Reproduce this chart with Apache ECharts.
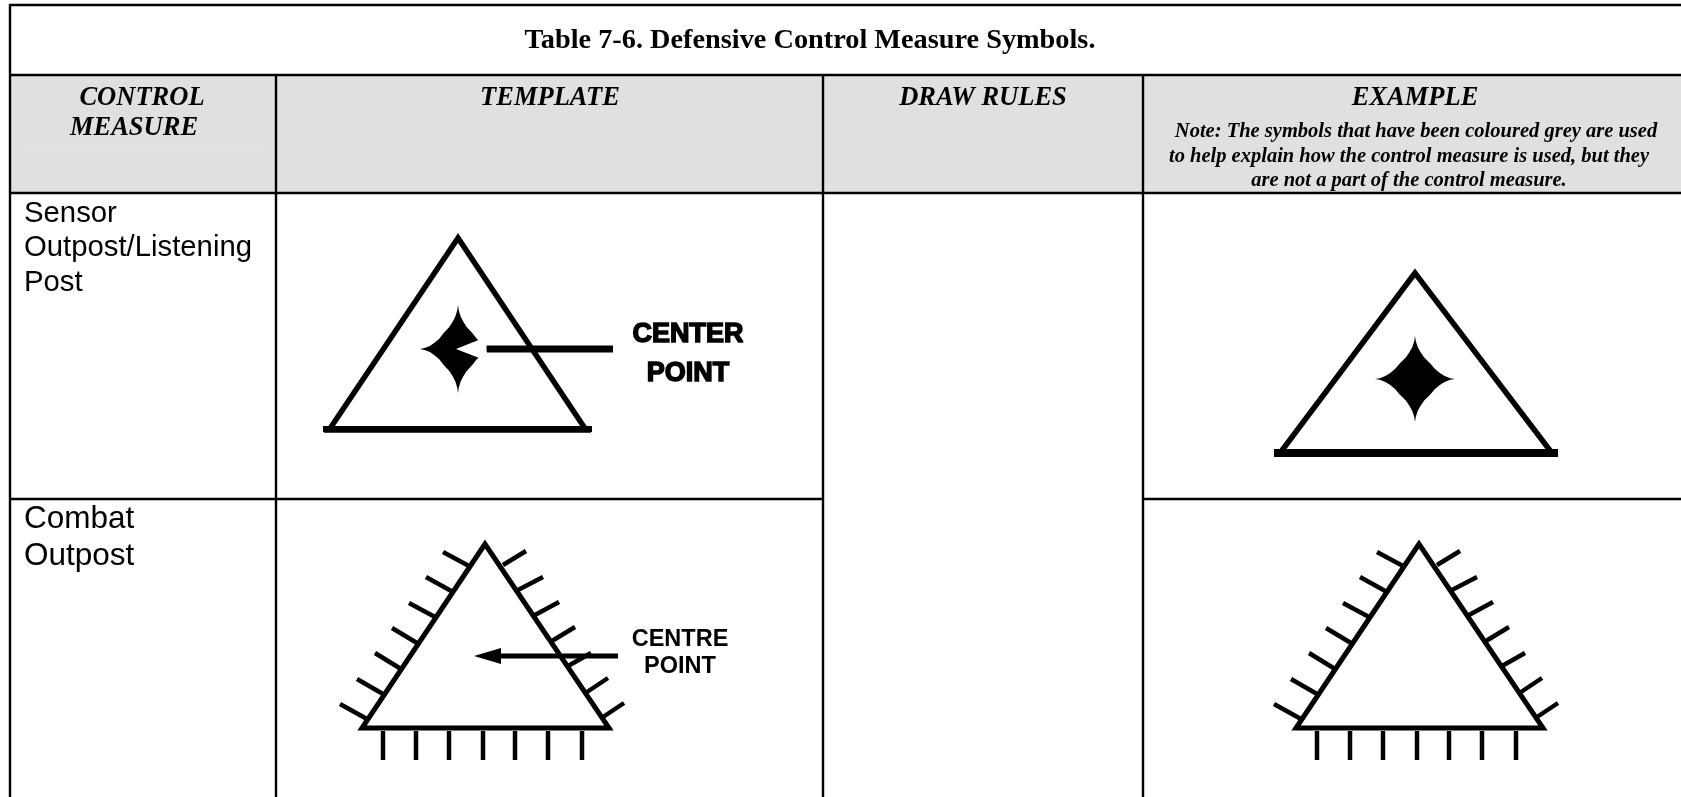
<!DOCTYPE html>
<html>
<head>
<meta charset="utf-8">
<title>Table 7-6</title>
<style>
  html, body { margin: 0; padding: 0; background: #fff; overflow: hidden; }
  #chart { width: 1681px; height: 797px; }
</style>
</head>
<body>
<div id="chart"></div>
<script src="https://cdn.jsdelivr.net/npm/echarts@6/dist/echarts.min.js"></script>
<script>
  // table text
  const tableTitle = ['Table 7-6. Defensive Control Measure Symbols.'];
  const tableTitlePos = [[810, 41]];
  const headerLabels = ['CONTROL', 'MEASURE', 'TEMPLATE', 'DRAW RULES', 'EXAMPLE'];
  const headerPos = [[142, 98], [134, 128], [550, 98], [983, 98], [1415, 98]];
  const noteLines = [
    'Note: The symbols that have been coloured grey are used',
    'to help explain how the control measure is used, but they',
    'are not a part of the control measure.'
  ];
  const notePos = [[1416, 132], [1409, 157], [1409, 181]];
  const sensorLabel = ['Sensor', 'Outpost/Listening', 'Post'];
  const sensorLabelPos = [[24, 214], [24, 248], [24, 283]];
  const combatLabel = ['Combat', 'Outpost'];
  const combatLabelPos = [[24, 519], [24, 556]];
  const centerLabel = ['CENTER', 'POINT'];
  const centerLabelPos = [[688, 335], [688, 374]];
  const centreLabel = ['CENTRE', 'POINT'];
  const centreLabelPos = [[680, 640], [680, 667]];

  // table rules
  const headerCell = [[10, 75], [1681, 75], [1681, 193], [10, 193]];
  const tableRules = [
    [[10, 5], [1681, 5]],
    [[10, 75], [1681, 75]],
    [[10, 193], [1681, 193]],
    [[10, 499], [823, 499]],
    [[1143, 499], [1681, 499]],
    [[10, 4], [10, 797]],
    [[276, 75], [276, 797]],
    [[823, 75], [823, 797]],
    [[1143, 75], [1143, 797]]
  ];
  const faintRule = [[[23, 145], [262, 145]]];

  // sensor outpost symbols
  const sensorSides = [
    [[458, 238], [329, 430], [586, 430]],
    [[1415, 273], [1280, 453], [1552, 453]]
  ];
  const sensorBase = [
    [[323, 429], [592, 429]],
    [[1274, 453], [1558, 453]]
  ];
  const starQuarter = [
    [0, -1], [0.02, -0.88], [0.07, -0.74], [0.14, -0.62], [0.23, -0.5], [0.37, -0.37],
    [0.5, -0.23], [0.62, -0.14], [0.74, -0.07], [0.88, -0.02], [1, 0]
  ];
  const stars = [[458, 349, 38, 44], [1415, 379, 40, 43]];
  const centerArrowLine = [[[487, 349], [613, 349]]];
  const centerArrowGap = [[[456, 349], [486, 337], [487, 361]]];

  // combat outpost symbols
  const combatTriangle = [[485, 544], [362, 728], [609, 728]];
  const combatTicksLeft = [
    [[367, 719], [340, 704]], [[383, 694], [357, 679]], [[401, 669], [375, 653]], [[417, 643], [392, 628]],
    [[435, 617], [409, 603]], [[453, 592], [426, 577]], [[469, 566], [443, 552]]
  ];
  const combatTicksRight = [
    [[503, 565], [526, 551]], [[518, 590], [543, 577]], [[535, 615], [559, 602]], [[552, 641], [575, 627]],
    [[568, 666], [591, 653]], [[587, 692], [608, 678]], [[603, 717], [624, 703]]
  ];
  const combatTicksBase = [383, 416, 449, 483, 515, 548, 582];
  const combatTicksBaseY = [731, 760];
  const exampleShift = [934];
  const centreArrowLine = [[[500, 656], [618, 656]]];
  const centreArrowHead = [[[474, 656], [501, 648], [501, 664]]];

  const SERIF = '"Liberation Serif", serif';
  const SANS = '"Liberation Sans", Arial, sans-serif';

  function lineSeries(name, paths, width, color, closed) {
    return {
      name: name,
      type: 'custom',
      coordinateSystem: 'cartesian2d',
      clip: false,
      silent: true,
      data: paths.map(function (p) { return p[0]; }),
      renderItem: function (params, api) {
        let points = paths[params.dataIndex].map(function (p) { return api.coord(p); });
        return {
          type: closed ? 'polygon' : 'polyline',
          shape: { points: points },
          style: { fill: closed ? '#fff' : 'none', stroke: color, lineWidth: width, lineJoin: 'miter', miterLimit: 10, lineCap: 'butt' }
        };
      }
    };
  }

  function fillSeries(name, shapes, color) {
    return {
      name: name,
      type: 'custom',
      coordinateSystem: 'cartesian2d',
      clip: false,
      silent: true,
      data: shapes.map(function (p) { return p[0]; }),
      renderItem: function (params, api) {
        let points = shapes[params.dataIndex].map(function (p) { return api.coord(p); });
        return { type: 'polygon', shape: { points: points }, style: { fill: color } };
      }
    };
  }

  function textSeries(name, texts, positions, font, align, strokeWidth) {
    return {
      name: name,
      type: 'custom',
      coordinateSystem: 'cartesian2d',
      clip: false,
      silent: true,
      data: positions,
      renderItem: function (params, api) {
        let pos = api.coord(positions[params.dataIndex]);
        return {
          type: 'text',
          style: {
            x: pos[0],
            y: pos[1],
            text: texts[params.dataIndex],
            font: font,
            fill: '#000',
            stroke: strokeWidth ? '#000' : null,
            lineWidth: strokeWidth || 0,
            textAlign: align,
            textVerticalAlign: 'middle'
          }
        };
      }
    };
  }

  // 四角星轮廓
  function starOutline(star) {
    let q = starQuarter;
    let out = [];
    [[1, 1], [-1, -1]].forEach(function (s) {
      q.forEach(function (p) { out.push([star[0] + s[0] * p[0] * star[2], star[1] + s[1] * p[1] * star[3]]); });
      q.slice().reverse().slice(1, -1).forEach(function (p) { out.push([star[0] + s[0] * p[0] * star[2], star[1] - s[1] * p[1] * star[3]]); });
    });
    return out;
  }

  function shifted(paths, dx) {
    return paths.map(function (path) {
      return path.map(function (p) { return [p[0] + dx, p[1]]; });
    });
  }

  let baseTicks = combatTicksBase.map(function (x) {
    return [[x, combatTicksBaseY[0]], [x, combatTicksBaseY[1]]];
  });
  let combatTicks = combatTicksLeft.concat(combatTicksRight, baseTicks);

  let chart = echarts.init(document.getElementById('chart'));
  chart.setOption({
    animation: false,
    backgroundColor: '#fff',
    grid: { left: 0, right: 0, top: 0, bottom: 0 },
    xAxis: { type: 'value', min: 0, max: 1681, show: false },
    yAxis: { type: 'value', min: 0, max: 797, inverse: true, show: false },
    series: [
      fillSeries('headerCell', [headerCell], '#e0e0e0'),
      lineSeries('faintRule', faintRule, 1, '#e6e6e6'),
      lineSeries('tableRules', tableRules, 2.4, '#000'),

      lineSeries('sensorSides', sensorSides, 5.5, '#000', true),
      lineSeries('sensorBase', [sensorBase[0]], 6, '#000'),
      lineSeries('sensorBaseExample', [sensorBase[1]], 8, '#000'),
      fillSeries('stars', stars.map(starOutline), '#000'),
      fillSeries('centerArrowGap', centerArrowGap, '#fff'),
      lineSeries('centerArrowLine', centerArrowLine, 7, '#000'),

      lineSeries('combatTriangle', [combatTriangle, shifted([combatTriangle], exampleShift[0])[0]], 5, '#000', true),
      lineSeries('combatTicks', combatTicks.concat(shifted(combatTicks, exampleShift[0])), 4.5, '#000'),
      lineSeries('centreArrowLine', centreArrowLine, 5, '#000'),
      fillSeries('centreArrowHead', centreArrowHead, '#000'),

      textSeries('title', tableTitle, tableTitlePos, 'bold 28.3px ' + SERIF, 'center'),
      textSeries('header', headerLabels, headerPos, 'italic bold 26.5px ' + SERIF, 'center'),
      textSeries('note', noteLines, notePos, 'italic bold 20.5px ' + SERIF, 'center'),
      textSeries('sensorLabel', sensorLabel, sensorLabelPos, '29.3px ' + SANS, 'left'),
      textSeries('combatLabel', combatLabel, combatLabelPos, '31.5px ' + SANS, 'left'),
      textSeries('centerLabel', centerLabel, centerLabelPos, 'bold 27px ' + SANS, 'center', 1.5),
      textSeries('centreLabel', centreLabel, centreLabelPos, 'bold 23.5px ' + SANS, 'center')
    ]
  });
</script>
</body>
</html>
